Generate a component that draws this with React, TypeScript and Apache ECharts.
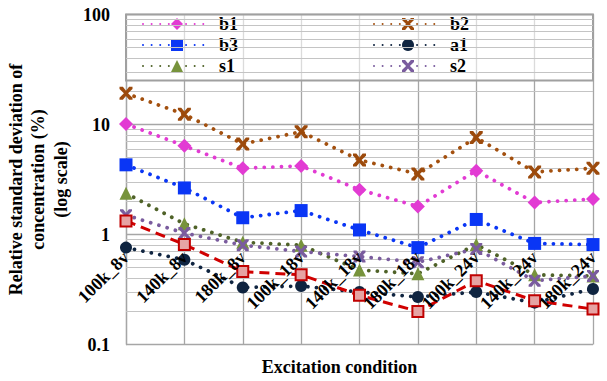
import React, { useEffect, useRef } from "react";
import * as echarts from "echarts";

const categories = ["100k_8v", "140k_8v", "180k_8v", "100k_18v", "140k_18v", "180k_18v", "100k_24v", "140k_24v", "180k_24v"];
const b1 = [10.1, 6.4, 4.0, 4.2, 2.55, 1.8, 3.8, 1.95, 2.1];
const b2 = [19.2, 12.4, 6.65, 8.6, 4.75, 3.55, 7.6, 3.7, 4.0];
const b3 = [4.3, 2.65, 1.42, 1.65, 1.1, 0.76, 1.37, 0.83, 0.81];
const a1 = [0.76, 0.59, 0.33, 0.34, 0.3, 0.27, 0.3, 0.24, 0.32];
const s1 = [2.37, 1.25, 0.85, 0.8, 0.475, 0.44, 0.81, 0.43, 0.42];
const s2 = [1.5, 1.03, 0.8, 0.7, 0.63, 0.56, 0.74, 0.38, 0.42];
const ref = [1.33, 0.81, 0.46, 0.43, 0.28, 0.2, 0.38, 0.25, 0.21];
const minorGrid = [0.2, 0.3, 0.4, 0.5, 0.6, 0.7, 0.8, 0.9, 2, 3, 4, 5, 6, 7, 8, 9, 20, 30, 40, 50, 60, 70, 80, 90];
const legendLeft = ["b1", "b3", "s1"];
const legendRight = ["b2", "a1", "s2"];

const X_SYMBOL = "path://M0,0 L2.6,0 L5,3 L7.4,0 L10,0 L10,1.6 L6.6,5 L10,8.4 L10,10 L7.4,10 L5,7 L2.6,10 L0,10 L0,8.4 L3.4,5 L0,1.6 Z";
const FONT = "'Liberation Serif', 'Times New Roman', serif";

function dotted(color: string) {
  return { color, width: 3.8, type: [0.01, 8.6], cap: "round" as const };
}

export default function App() {
  const ref0 = useRef<HTMLDivElement>(null);
  useEffect(() => {
    const chart = echarts.init(ref0.current!, null, { renderer: "svg" });
    const legendCommon = {
      orient: "vertical",
      top: 15,
      itemGap: 3,
      itemWidth: 68,
      itemHeight: 15,
      padding: 0,
      textStyle: { fontFamily: FONT, fontWeight: "bold", fontSize: 18, color: "#000", padding: [0, 0, 0, 3] },
    };
    chart.setOption({
      animation: false,
      backgroundColor: "#fff",
      grid: { left: 126, right: 14, top: 14.5, bottom: 36.5, containLabel: false, outerBoundsMode: "none" },
      legend: [
        { ...legendCommon, left: 142, data: legendLeft },
        { ...legendCommon, left: 373, data: legendRight },
      ],
      graphic: [
        {
          type: "rect",
          z: 1,
          shape: { x: 126, y: 14.5, width: 467, height: 66 },
          style: { fill: "rgba(255,255,255,0.6)", stroke: "#a0a0a0", lineWidth: 2 },
        },
      ],
      xAxis: [
        {
          type: "category",
          data: categories,
          boundaryGap: false,
          position: "bottom",
          z: 0,
          name: "Excitation condition",
          nameLocation: "middle",
          nameGap: 13,
          nameTextStyle: { fontFamily: FONT, fontWeight: "bold", fontSize: 18, color: "#000", padding: [0, 40, 0, 0], verticalAlign: "top" },
          axisLine: { show: false },
          axisTick: { show: false },
          axisLabel: { show: false },
          splitLine: { show: true, interval: 0, lineStyle: { color: "#a6a6a6", width: 1.3 } },
        },
        {
          type: "category",
          data: categories,
          boundaryGap: false,
          position: "bottom",
          z: 20,
          axisLine: { show: false },
          axisTick: { show: false },
          splitLine: { show: false },
          axisLabel: {
            interval: 0,
            rotate: 45,
            margin: -90,
            hideOverlap: false,
            fontFamily: FONT,
            fontWeight: "bold",
            fontSize: 18,
            color: "#000",
          },
        },
      ],
      yAxis: {
        type: "log",
        logBase: 10,
        min: 0.1,
        max: 100,
        name: "Relative standard deviation of\nconcentration (%)\n(log scale)",
        nameLocation: "middle",
        nameGap: 38,
        nameTextStyle: { fontFamily: FONT, fontWeight: "bold", fontSize: 18, color: "#000", lineHeight: 22.5, align: "center" },
        axisLine: { show: true, lineStyle: { color: "#a6a6a6", width: 1.3 } },
        axisTick: { show: false },
        axisLabel: {
          margin: 16,
          fontFamily: FONT,
          fontWeight: "bold",
          fontSize: 18,
          color: "#000",
          formatter: (v: number) => (v >= 1 ? String(Math.round(v)) : String(Math.round(v * 10) / 10)),
        },
        splitLine: { show: true, lineStyle: { color: "#a6a6a6", width: 1.3 } },
      },
      series: [
        {
          type: "line",
          name: "grid",
          data: [],
          z: 0,
          silent: true,
          markLine: {
            silent: true,
            symbol: "none",
            label: { show: false },
            lineStyle: { color: "#c4c4c4", width: 1, type: "solid" },
            data: minorGrid.map((v) => ({ yAxis: v })),
          },
        },
        { type: "line", name: "b1", data: b1, symbol: "diamond", symbolSize: 14, itemStyle: { color: "#e23bd3" }, lineStyle: dotted("#e23bd3"), z: 5 },
        { type: "line", name: "b2", data: b2, symbol: X_SYMBOL, symbolSize: 13, itemStyle: { color: "#9c4a0c" }, lineStyle: dotted("#a3500f"), z: 5 },
        { type: "line", name: "b3", data: b3, symbol: "rect", symbolSize: 13, itemStyle: { color: "#0a36f5" }, lineStyle: dotted("#0a36f5"), z: 5 },
        { type: "line", name: "a1", data: a1, symbol: "circle", symbolSize: 12, itemStyle: { color: "#0f2440" }, lineStyle: dotted("#0f2440"), z: 5 },
        { type: "line", name: "s1", data: s1, symbol: "triangle", symbolSize: 13, itemStyle: { color: "#77933c" }, lineStyle: dotted("#4f6228"), z: 5 },
        { type: "line", name: "s2", data: s2, symbol: X_SYMBOL, symbolSize: 12, itemStyle: { color: "#7a5c9e" }, lineStyle: dotted("#7a5c9e"), z: 5 },
        {
          type: "line",
          name: "ref",
          data: ref,
          symbol: "rect",
          symbolSize: 11,
          itemStyle: { color: "#e6a3a3", borderColor: "#c00000", borderWidth: 2 },
          lineStyle: { color: "#d00000", width: 3, type: [10, 6] },
          z: 5,
        },
      ],
    });
    return () => chart.dispose();
  }, []);
  return <div ref={ref0} style={{ position: "fixed", left: 0, top: 0, width: 607, height: 381 }} />;
}
